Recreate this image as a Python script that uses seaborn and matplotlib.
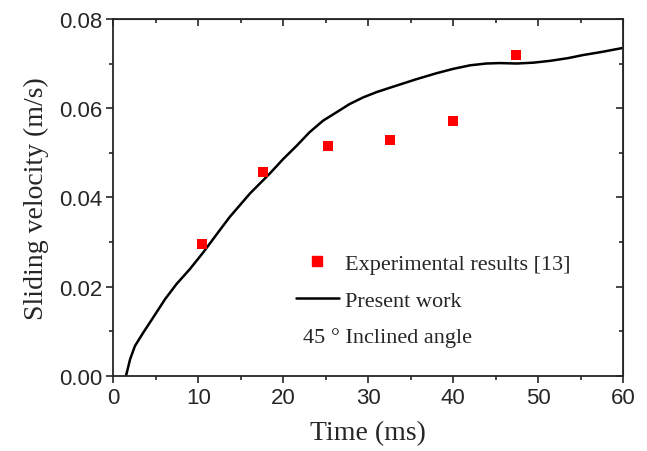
# Sliding velocity vs time
import matplotlib
matplotlib.use("Agg")
import matplotlib.pyplot as plt
import seaborn as sns
import pandas as pd
from matplotlib.ticker import MultipleLocator
from matplotlib.lines import Line2D

# Data
exp_time = [10.4, 17.6, 25.3, 32.6, 40.0, 47.4]
exp_velocity = [0.0295, 0.0457, 0.0515, 0.0529, 0.0572, 0.0718]

model_time = [1.5, 1.98, 2.55, 3.53, 4.7, 6.1, 7.45, 9.0, 10.6, 12.2, 13.7, 16.1, 18.4,
              20.0, 21.6, 23.1, 24.7, 26.3, 27.8, 29.4, 30.2, 31.0, 32.6, 35.7, 38.0,
              40.0, 42.0, 43.9, 45.5, 47.5, 49.5, 51.4, 53.5, 55.3, 57.5, 60.0]
model_velocity = [0.0, 0.0037, 0.0067, 0.0097, 0.0131, 0.0172, 0.0206, 0.0239, 0.0277,
                  0.0318, 0.0356, 0.0409, 0.0453, 0.0486, 0.0516, 0.0546, 0.0572, 0.0591,
                  0.0609, 0.0624, 0.0630, 0.0636, 0.0646, 0.0665, 0.0678, 0.0688, 0.0696,
                  0.0700, 0.0701, 0.0700, 0.0702, 0.0706, 0.0712, 0.0719, 0.0726, 0.0735]

exp_df = pd.DataFrame({"time": exp_time, "velocity": exp_velocity})
model_df = pd.DataFrame({"time": model_time, "velocity": model_velocity})

sns.set_style("ticks")
serif = ["Liberation Serif", "DejaVu Serif"]
sans = ["Liberation Sans", "DejaVu Sans"]

fig = plt.figure(figsize=(6.47, 4.52), dpi=100)
ax = fig.add_axes([0.175, 0.166, 0.788, 0.790])

sns.lineplot(data=model_df, x="time", y="velocity", color="black", linewidth=1.8, ax=ax)
sns.scatterplot(data=exp_df, x="time", y="velocity", marker="s", color="red", s=50,
                linewidth=0, ax=ax, zorder=3)

ax.set_xlim(0, 60)
ax.set_ylim(0, 0.08)
ax.xaxis.set_major_locator(MultipleLocator(10))
ax.xaxis.set_minor_locator(MultipleLocator(5))
ax.yaxis.set_major_locator(MultipleLocator(0.02))
ax.yaxis.set_minor_locator(MultipleLocator(0.01))
ax.tick_params(which="major", direction="out", length=5, width=1.2, labelsize=16, pad=3)
ax.tick_params(which="minor", direction="out", length=3, width=1.2)
for lab in ax.get_xticklabels() + ax.get_yticklabels():
    lab.set_family(sans)
for sp in ax.spines.values():
    sp.set_linewidth(1.3)
    sp.set_visible(True)

# mirrored inward ticks on top and right
top = ax.secondary_xaxis("top")
top.xaxis.set_major_locator(MultipleLocator(10))
top.xaxis.set_minor_locator(MultipleLocator(5))
top.tick_params(which="major", direction="in", length=5, width=1.2, labeltop=False)
top.tick_params(which="minor", direction="in", length=3, width=1.2)
right = ax.secondary_yaxis("right")
right.yaxis.set_major_locator(MultipleLocator(0.02))
right.yaxis.set_minor_locator(MultipleLocator(0.01))
right.tick_params(which="major", direction="in", length=5, width=1.2, labelright=False)
right.tick_params(which="minor", direction="in", length=3, width=1.2)

ax.set_xlabel("Time (ms)", family=serif, fontsize=20, labelpad=9)
ax.set_ylabel("Sliding velocity (m/s)", family=serif, fontsize=20, labelpad=7)

handles = [
    Line2D([], [], marker="s", color="red", linestyle="none", markersize=7),
    Line2D([], [], color="black", linewidth=1.8),
]
ax.legend(handles, ["Experimental results [13]", "Present work"], loc="upper left",
          bbox_to_anchor=(0.32, 0.40), frameon=False, prop={"family": serif, "size": 16},
          handlelength=1.9, handletextpad=0.3, labelspacing=0.75)
ax.text(0.372, 0.11, "45 ° Inclined angle", transform=ax.transAxes,
        family=serif, fontsize=16, va="center")

plt.savefig("out.png", dpi=100)
